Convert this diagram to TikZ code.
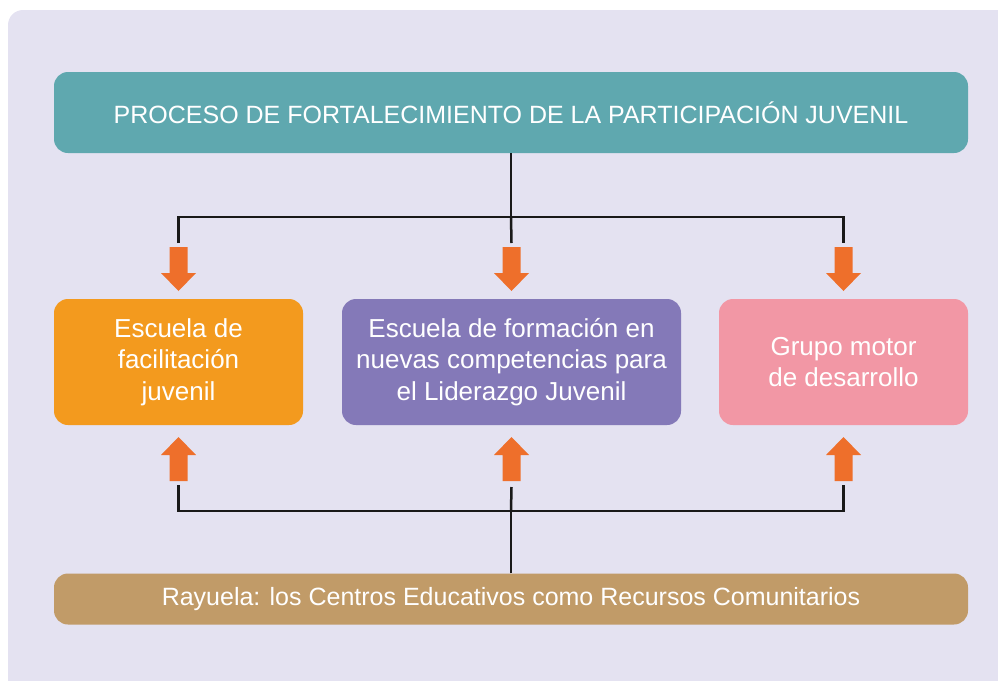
\documentclass[tikz,border=0pt]{standalone}
\usepackage{fontspec}
\setmainfont{Liberation Sans}
\usetikzlibrary{calc}
\definecolor{bgc}{HTML}{E4E2F1}
\definecolor{teal}{HTML}{5FA8AF}
\definecolor{orangebox}{HTML}{F39A1E}
\definecolor{purplebox}{HTML}{8479B8}
\definecolor{pinkbox}{HTML}{F297A5}
\definecolor{tanbox}{HTML}{C19B68}
\definecolor{arrowc}{HTML}{EE6F2B}
\begin{document}
\begin{tikzpicture}[x=1pt,y=-1pt,
  box/.style={rounded corners=14pt, inner sep=0pt, text=white, align=center,
    font=\fontsize{26}{31.5}\selectfont},
  wide/.style={font=\fontsize{25}{30}\selectfont},
  conn/.style={line width=2.5pt, draw=black!90},
  downarr/.pic={\fill[arrowc] (-9,-44)--(9,-44)--(9,-18)--(17.5,-18)--(0,0)--(-17.5,-18)--(-9,-18)--cycle;}
]
\useasboundingbox (0,0) rectangle (998,680);
\fill[bgc, rounded corners=15pt] (8,10) rectangle (1040,720);

\node[box, wide, fill=teal, minimum width=914pt, minimum height=81pt] (top) at (511,112.5)
  {PROCESO DE FORTALECIMIENTO DE LA PARTICIPACIÓN JUVENIL};
\node[box, fill=orangebox, minimum width=249pt, minimum height=126pt] (b1) at (178.5,362)
  {Escuela de\\facilitación\\juvenil};
\node[box, fill=purplebox, minimum width=339pt, minimum height=126pt] (b2) at (511.5,362)
  {Escuela de formación en\\nuevas competencias para\\el Liderazgo Juvenil};
\node[box, fill=pinkbox, minimum width=249pt, minimum height=126pt] (b3) at (843.5,362)
  {Grupo motor\\de desarrollo};
\node[box, wide, fill=tanbox, minimum width=914pt, minimum height=51pt] (bot) at (511,599)
  {Rayuela: los Centros Educativos como Recursos Comunitarios};

% top connectors
\coordinate (jt) at (top.south |- 0,217);
\draw[conn] (top.south) -- (jt);
\draw[conn] (b1.north |- 0,243) |- (b3.north |- jt) -- (b3.north |- 0,243);
\draw[conn] (jt) -- (b2.north |- 0,243);
% bottom connectors
\coordinate (jb) at (bot.north |- 0,511);
\draw[conn] (bot.north) -- (jb);
\draw[conn] (b1.south |- 0,485) |- (b3.south |- jb) -- (b3.south |- 0,485);
\draw[conn] (jb) -- (b2.south |- 0,487);

% block arrows
\foreach \b in {b1,b2,b3}{
  \pic at (\b.north |- 0,291) {downarr};
  \pic[rotate=180] at (\b.south |- 0,437) {downarr};
}
\end{tikzpicture}
\end{document}
